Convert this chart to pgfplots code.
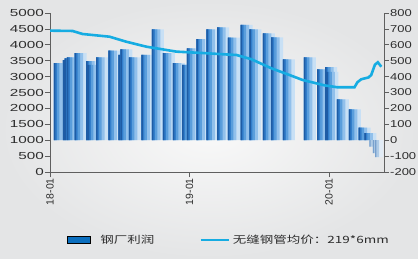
\documentclass[border=0pt]{standalone}
\usepackage{pgfplots}
\pgfplotsset{compat=1.18}
\usepackage{pgfplotstable}
\usepackage{fontspec}
\setmainfont{Liberation Sans}
\newfontfamily\wide{Liberation Sans}[FakeStretch=1.5]
\newfontfamily\wider{Liberation Sans}[FakeStretch=1.3]
\newfontfamily\cjk{Noto Sans CJK SC}[FakeStretch=1.35]

\definecolor{axiscol}{RGB}{95,95,95}
\definecolor{labcol}{RGB}{45,45,45}
\definecolor{bgin}{RGB}{249,249,249}
\definecolor{bgout}{RGB}{228,229,230}
\definecolor{b1}{RGB}{200,224,245}
\definecolor{b2}{RGB}{145,192,235}
\definecolor{b3}{RGB}{90,158,220}
\definecolor{b4}{RGB}{50,126,203}
\definecolor{spike}{RGB}{30,92,165}
\definecolor{n1}{RGB}{226,236,246}
\definecolor{n2}{RGB}{175,203,230}
\definecolor{n3}{RGB}{120,160,205}
\definecolor{linecol}{RGB}{22,172,226}
\definecolor{legbar}{RGB}{10,110,190}

\pgfplotstableread{
x y
0.33 484
1.10 504
1.25 515
1.45 521
2.11 547
3.11 498
3.25 473
3.97 521
5.03 563
5.89 536
6.06 572
6.78 521
7.85 536
8.76 697
9.70 547
10.56 484
11.37 473
11.77 578
12.58 635
13.44 697
14.38 710
15.29 645
16.39 725
17.16 697
18.31 672
19.03 647
20.03 509
21.83 521
22.98 446
23.67 459
23.78 430
24.67 257
25.70 194
26.54 79
27.05 45
}\profit

\pgfplotstableread{
x y
27.48 -40
27.77 -81
27.97 -106
}\loss

\pgfplotstableread{
x y
0.00 689
1.94 687
2.80 668
5.12 651
6.58 619
8.30 588
10.88 557
11.40 555
13.46 547
15.00 540
16.04 536
17.33 509
19.05 452
20.60 410
21.72 379
23.61 345
24.70 333
26.19 333
26.45 365
26.77 383
27.40 395
27.63 410
27.95 475
28.20 490
28.50 462
}\price

\begin{document}
\begin{tikzpicture}
\useasboundingbox (0,0) rectangle (418bp,259bp);
\clip (0,0) rectangle (418bp,259bp);
\shade[inner color=bgin, outer color=bgout] (0,0) rectangle (418bp,259bp);
\pgfplotsset{
  common/.style={
    at={(50bp,87bp)}, anchor=south west, scale only axis,
    width=334bp, height=159bp,
    xmin=0, xmax=28.73,
    tick align=outside, major tick length=5bp,
    tick style={axiscol, line width=0.8bp},
    axis line style={axiscol, line width=0.8bp, -},
    scaled y ticks=false,
    /pgf/number format/1000 sep={},
    /pgf/number format/assume math mode=true,
  },
  lay/.style 2 args={ybar, forget plot, draw=none, fill=#1, bar width=#2, bar shift=#2/2},
}
\begin{axis}[common,
  ymin=0, ymax=5000,
  axis x line*=bottom, axis y line*=left,
  x axis line style={-}, y axis line style={-},
  ytick={0,500,...,5000},
  xtick={0,12,24}, xticklabels={18-01,19-01,20-01},
  yticklabel style={font=\fontsize{10.2bp}{12bp}\wide, text=labcol, inner sep=1bp},
  xticklabel style={font=\fontsize{10.5bp}{12bp}\selectfont, text=labcol, rotate=90, anchor=east, inner sep=1bp},
]
\end{axis}
\begin{axis}[common,
  ymin=-200, ymax=800,
  axis x line=none, axis y line*=right,
  y axis line style={-},
  ytick={-200,-100,...,800},
  yticklabel style={font=\fontsize{10bp}{12bp}\wider, text=labcol, inner sep=1bp},
  legend columns=2,
  legend style={at={(axis description cs:0.0509,-0.4277)}, anchor=west,
    draw=none, fill=none, inner sep=0pt, outer sep=0pt,
    font=\fontsize{10bp}{12bp}\cjk, text=labcol,
    cells={anchor=west, inner sep=0pt},
    /tikz/column 1/.style={column sep=8bp},
    /tikz/column 2/.style={column sep=43bp},
    /tikz/column 3/.style={column sep=1bp}},
]
\addplot[lay={b1}{12bp}] table {\profit};
\addplot[lay={b2}{8.5bp}] table {\profit};
\addplot[lay={b3}{5.5bp}] table {\profit};
\addplot[lay={b4}{3bp}] table {\profit};
\addplot[lay={spike}{1.5bp}] table {\profit};
\addplot[lay={n1}{8bp}] table {\loss};
\addplot[lay={n2}{4bp}] table {\loss};
\addplot[lay={n3}{1.2bp}] table {\loss};
\addplot[forget plot, linecol, line width=2.6bp, mark=none] table {\price};
\addlegendimage{legend image code/.code={\fill[fill=legbar] (0bp,-3.5bp) rectangle (23bp,3.5bp);}}
\addlegendentry{钢厂利润}
\addlegendimage{legend image code/.code={\draw[draw=linecol, line width=2.6bp] (0bp,0bp) -- (28bp,0bp);}}
\addlegendentry{无缝钢管均价：219*6mm}
\end{axis}
\end{tikzpicture}
\end{document}
